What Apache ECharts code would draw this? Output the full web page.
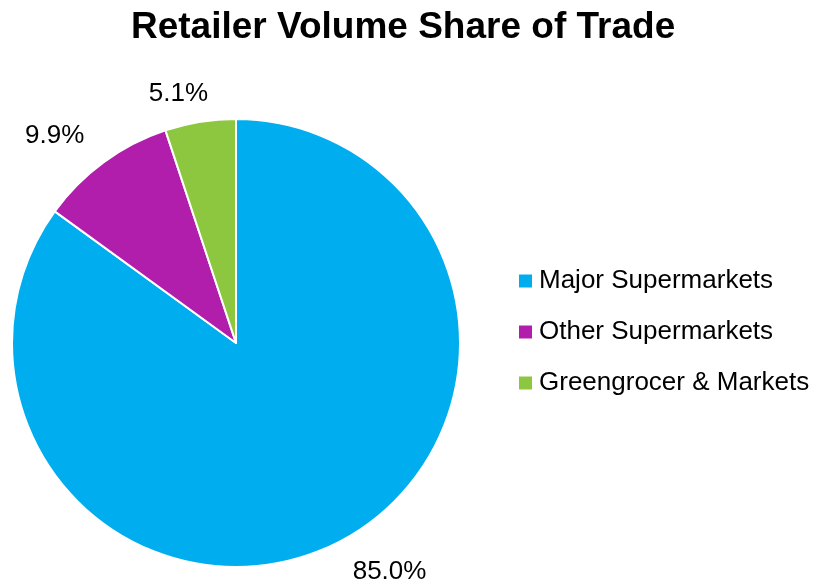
<!DOCTYPE html>
<html>
<head>
<meta charset="utf-8">
<script src="https://cdn.jsdelivr.net/npm/echarts@6/dist/echarts.min.js"></script>
<style>
  html, body { margin: 0; padding: 0; background: #fff; }
  #chart { width: 819px; height: 586px; }
</style>
</head>
<body>
<div id="chart"></div>
<script>
// Retail channel shares (% of volume)
const categories = ['Major Supermarkets', 'Other Supermarkets', 'Greengrocer & Markets'];
const shares = [85.0, 9.9, 5.1];
const colors = ['#00AEEF', '#B01EAB', '#8DC63F'];

const chart = echarts.init(document.getElementById('chart'));
const FONT = '"Liberation Sans", Arial, sans-serif';

chart.setOption({
  animation: false,
  title: {
    text: 'Retailer Volume Share of Trade',
    left: 131,
    top: 9,
    padding: 0,
    textStyle: { fontFamily: FONT, fontSize: 37, fontWeight: 'bold', color: '#000' }
  },
  legend: {
    orient: 'vertical',
    left: 519,
    top: 268,
    padding: 0,
    icon: 'rect',
    itemWidth: 13,
    itemHeight: 13,
    itemGap: 25,
    data: categories,
    itemStyle: { borderWidth: 0 },
    textStyle: { fontFamily: FONT, fontSize: 26, color: '#000', padding: [0, 0, 0, 2] }
  },
  series: [{
    type: 'pie',
    center: [236, 343],
    radius: 224,
    startAngle: 90,
    clockwise: true,
    avoidLabelOverlap: false,
    itemStyle: { borderColor: '#fff', borderWidth: 2 },
    label: {
      show: true,
      position: 'outside',
      distanceToLabelLine: 0,
      fontFamily: FONT,
      fontSize: 26,
      color: '#000',
      formatter: p => p.value.toFixed(1) + '%'
    },
    labelLine: { show: false, length: 33, length2: 0 },
    // the small top slice's label sits centred over its wedge
    labelLayout: p => (p.dataIndex === 2 ? { dx: 13, dy: 5 } : {}),
    emphasis: { disabled: true },
    data: categories.map((name, i) => ({
      name,
      value: shares[i],
      itemStyle: { color: colors[i] }
    }))
  }]
});
</script>
</body>
</html>
